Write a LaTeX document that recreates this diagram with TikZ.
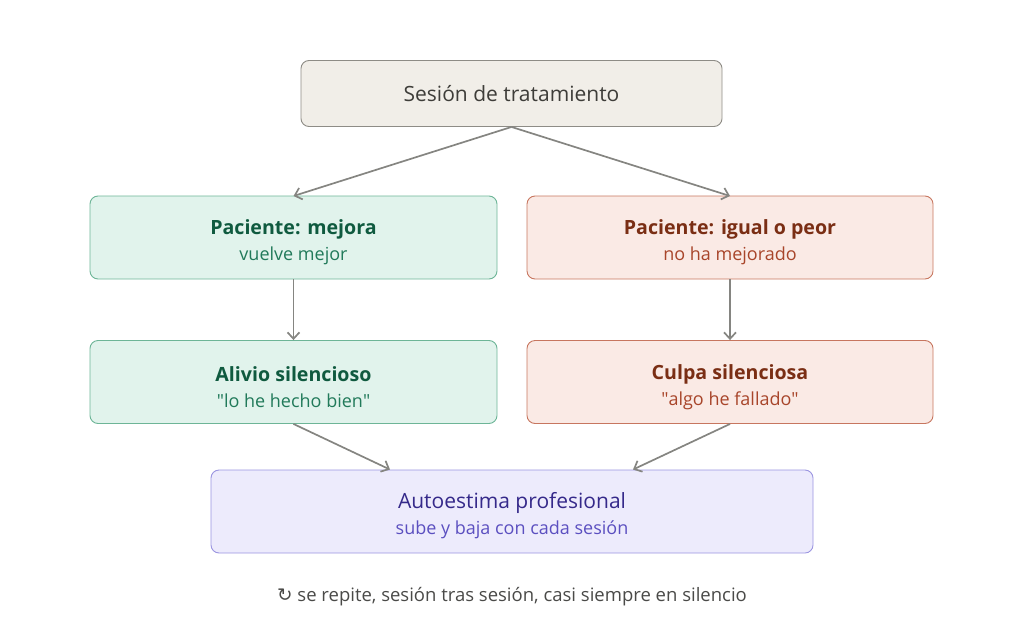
\documentclass[tikz,border=0pt]{standalone}
\usepackage{fontspec}
\setmainfont{Open Sans}
\newfontfamily\symfont{DejaVu Sans}
\usetikzlibrary{arrows.meta}
\definecolor{gborder}{HTML}{8E8C86}
\definecolor{gfill}{HTML}{F1EEE8}
\definecolor{gtext}{HTML}{3E3D39}
\definecolor{vfill}{HTML}{E1F3EC}
\definecolor{vborder}{HTML}{6DB597}
\definecolor{vtitle}{HTML}{0F5A3F}
\definecolor{vsub}{HTML}{217A5A}
\definecolor{rfill}{HTML}{FAEAE5}
\definecolor{rborder}{HTML}{C7765F}
\definecolor{rtitle}{HTML}{7A2E14}
\definecolor{rsub}{HTML}{A8452A}
\definecolor{pfill}{HTML}{EDEBFC}
\definecolor{pborder}{HTML}{9A94E0}
\definecolor{ptitle}{HTML}{35298A}
\definecolor{psub}{HTML}{5B4FC0}
\definecolor{arr}{HTML}{858581}
\definecolor{foot}{HTML}{4A4A48}
\tikzset{
  box/.style={draw, rounded corners=8pt, line width=0.9pt, inner sep=0pt, align=center, font=\fontsize{18}{26}\selectfont},
  topbox/.style={box, fill=gfill, draw=gborder, text=gtext, minimum width=421pt, minimum height=66pt, font=\fontsize{21}{25}\selectfont},
  greenbox/.style={box, fill=vfill, draw=vborder, minimum width=407pt, minimum height=83pt},
  redbox/.style={box, fill=rfill, draw=rborder, minimum width=406pt, minimum height=83pt},
  purplebox/.style={box, fill=pfill, draw=pborder, minimum width=602pt, minimum height=83pt},
  conn/.style={draw=arr, line width=1.7pt, -{Straight Barb[length=6.5pt,width=12pt,line width=1.7pt]}},
}
\newcommand{\ttl}[2]{{\rule{0pt}{25pt}\fontsize{19.6}{26}\selectfont\bfseries\color{#1}#2}}
\newcommand{\sbt}[2]{{\fontsize{18}{26}\selectfont\color{#1}#2}}
\begin{document}
\begin{tikzpicture}[x=1pt,y=-1pt]
\useasboundingbox (0,0) rectangle (1024,621);
\node[topbox] (top) at (511.5,93.5) {Sesión de tratamiento};
\node[greenbox] (l1) at (293.5,237.5) {\ttl{vtitle}{Paciente: mejora}\\\sbt{vsub}{vuelve mejor}};
\node[redbox] (r1) at (730,237.5) {\ttl{rtitle}{Paciente: igual o peor}\\\sbt{rsub}{no ha mejorado}};
\node[greenbox] (l2) at (293.5,382) {\ttl{vtitle}{Alivio silencioso}\\\sbt{vsub}{\textquotedbl lo he hecho bien\textquotedbl}};
\node[redbox] (r2) at (730,382) {\ttl{rtitle}{Culpa silenciosa}\\\sbt{rsub}{\textquotedbl algo he fallado\textquotedbl}};
\node[purplebox] (bot) at (512,511.5) {{\rule{0pt}{25pt}\fontsize{21}{26}\selectfont\color{ptitle}Autoestima profesional}\\\sbt{psub}{sube y baja con cada sesión}};
\node[text=foot, font=\fontsize{18.5}{20}\selectfont] (ft) at (512,597) {{\symfont ↻} se repite, sesión tras sesión, casi siempre en silencio};
\coordinate (t1) at (293.5,196);
\coordinate (t2) at (730,196);
\draw[conn] (top.south) -- (t1);
\draw[conn] (top.south) -- (t2);
\draw[conn] (l1.south) -- (l2.north);
\draw[conn] (r1.south) -- (r2.north);
\draw[conn] (l2.south) -- (bot.north -| 390,0);
\draw[conn] (r2.south) -- (bot.north -| 633,0);
\end{tikzpicture}
\end{document}
